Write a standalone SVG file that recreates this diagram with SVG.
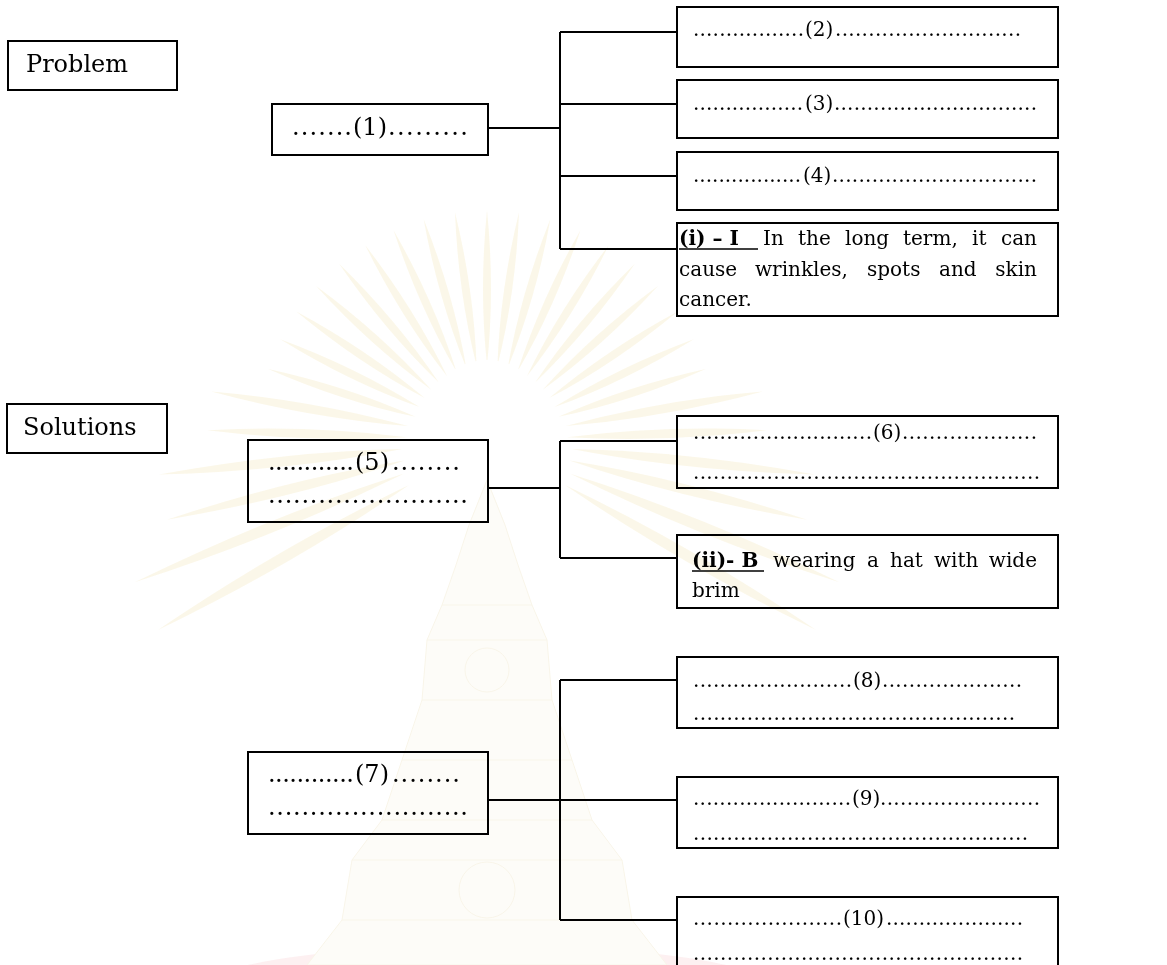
<svg xmlns="http://www.w3.org/2000/svg" xmlns:xlink="http://www.w3.org/1999/xlink" width="1167" height="965" viewBox="0 0 1167 965">
  <defs>
    <style>
      .box { fill: none; stroke: #000; stroke-width: 2; }
      .conn { fill: none; stroke: #000; stroke-width: 2; }
      .t { font-family: "DejaVu Serif", "Liberation Serif", serif; fill: #000; }
      .big { font-size: 24px; }
      .sm { font-size: 20px; }
      .b { font-weight: bold; }
      .ul { stroke: #000; stroke-width: 1.5; }
      .ray { fill: #f6ecc8; }
      .crown { fill: #fbf8ee; stroke: #efe6c8; stroke-width: 1; }
    </style>
    <!-- sunburst rays, drawn pointing up from the origin -->
    <path id="rayA" d="M0,-75 Q8,-150 0,-230 Q-8,-150 0,-75Z"/>
    <path id="rayB" d="M0,-80 Q9,-180 0,-280 Q-9,-180 0,-80Z"/>
    <path id="rayC" d="M0,-85 Q10,-200 0,-330 Q-10,-200 0,-85Z"/>
    <path id="rayD" d="M0,-90 Q11,-230 0,-380 Q-11,-230 0,-90Z"/>
  </defs>

  <rect width="1167" height="965" fill="#fff"/>

  <!-- faint emblem in the background -->
  <g id="watermark" opacity="0.4">
    <g class="ray" transform="translate(487,440)">
      <use xlink:href="#rayA" transform="rotate(0)"/>
      <use xlink:href="#rayA" transform="rotate(8)"/>
      <use xlink:href="#rayA" transform="rotate(-8)"/>
      <use xlink:href="#rayA" transform="rotate(16)"/>
      <use xlink:href="#rayA" transform="rotate(-16)"/>
      <use xlink:href="#rayA" transform="rotate(24)"/>
      <use xlink:href="#rayA" transform="rotate(-24)"/>
      <use xlink:href="#rayA" transform="rotate(32)"/>
      <use xlink:href="#rayA" transform="rotate(-32)"/>
      <use xlink:href="#rayA" transform="rotate(40)"/>
      <use xlink:href="#rayA" transform="rotate(-40)"/>
      <use xlink:href="#rayA" transform="rotate(48)"/>
      <use xlink:href="#rayA" transform="rotate(-48)"/>
      <use xlink:href="#rayA" transform="rotate(56)"/>
      <use xlink:href="#rayA" transform="rotate(-56)"/>
      <use xlink:href="#rayA" transform="rotate(64)"/>
      <use xlink:href="#rayA" transform="rotate(-64)"/>
      <use xlink:href="#rayA" transform="rotate(72)"/>
      <use xlink:href="#rayA" transform="rotate(-72)"/>
      <use xlink:href="#rayB" transform="rotate(80)"/>
      <use xlink:href="#rayB" transform="rotate(-80)"/>
      <use xlink:href="#rayB" transform="rotate(88)"/>
      <use xlink:href="#rayB" transform="rotate(-88)"/>
      <use xlink:href="#rayC" transform="rotate(96)"/>
      <use xlink:href="#rayC" transform="rotate(-96)"/>
      <use xlink:href="#rayC" transform="rotate(104)"/>
      <use xlink:href="#rayC" transform="rotate(-104)"/>
      <use xlink:href="#rayD" transform="rotate(112)"/>
      <use xlink:href="#rayD" transform="rotate(-112)"/>
      <use xlink:href="#rayD" transform="rotate(120)"/>
      <use xlink:href="#rayD" transform="rotate(-120)"/>
    </g>
    <circle cx="487" cy="420" r="60" fill="#fff"/>
    <ellipse cx="487" cy="995" rx="300" ry="50" fill="#fad9dc"/>
    <path class="crown" d="M487,480 L505,525 L518,565 L532,605 L547,640 L552,700 L572,760 L592,820 L622,860 L632,920 L667,965 L307,965 L342,920 L352,860 L382,820 L402,760 L422,700 L427,640 L442,605 L456,565 L469,525 Z"/>
    <path class="crown" fill="none" d="M442,605 H532 M427,640 H547 M422,700 H552 M402,760 H572 M382,820 H592 M352,860 H622 M342,920 H632"/>
    <circle class="crown" cx="487" cy="670" r="22"/>
    <circle class="crown" cx="487" cy="890" r="28"/>
  </g>

  <!-- connectors -->
  <g id="connectors">
    <path class="conn" d="M488,128 H560 M560,32 V249 M560,32 H677 M560,104 H677 M560,176 H677 M560,249 H677"/>
    <path class="conn" d="M488,488 H560 M560,441 V558 M560,441 H677 M560,558 H677"/>
    <path class="conn" d="M488,800 H560 M560,680 V920 M560,680 H677 M560,800 H677 M560,920 H677"/>
  </g>

  <g id="problem">
    <rect class="box" x="8" y="41" width="169" height="49"/>
    <text class="t big" x="26" y="72">Problem</text>
  </g>

  <g id="solutions">
    <rect class="box" x="7" y="404" width="160" height="49"/>
    <text class="t big" x="23" y="435">Solutions</text>
  </g>

  <g id="n1">
    <rect class="box" x="272" y="104" width="216" height="51"/>
    <text class="t big" x="292" y="135" textLength="60" lengthAdjust="spacing">.......</text>
    <text class="t big" x="353" y="135">(1)</text>
    <text class="t big" x="388" y="135" textLength="80" lengthAdjust="spacing">.........</text>
  </g>

  <g id="n2">
    <rect class="box" x="677" y="7" width="381" height="60"/>
    <text class="t sm" x="693" y="36" textLength="111" lengthAdjust="spacing">.................</text>
    <text class="t sm" x="805" y="36">(2)</text>
    <text class="t sm" x="835" y="36" textLength="186" lengthAdjust="spacing">............................</text>
  </g>

  <g id="n3">
    <rect class="box" x="677" y="80" width="381" height="58"/>
    <text class="t sm" x="693" y="110" textLength="110" lengthAdjust="spacing">.................</text>
    <text class="t sm" x="805" y="110">(3)</text>
    <text class="t sm" x="834" y="110" textLength="203" lengthAdjust="spacing">...............................</text>
  </g>

  <g id="n4">
    <rect class="box" x="677" y="152" width="381" height="58"/>
    <text class="t sm" x="693" y="182" textLength="108" lengthAdjust="spacing">.................</text>
    <text class="t sm" x="803" y="182">(4)</text>
    <text class="t sm" x="832" y="182" textLength="205" lengthAdjust="spacing">...............................</text>
  </g>

  <g id="ni">
    <rect class="box" x="677" y="223" width="381" height="93"/>
    <text class="t sm b" x="679" y="245">(i) – I</text>
    <line class="ul" x1="679" y1="249" x2="758" y2="249"/>
    <text class="t sm" y="245"><tspan x="763">In</tspan><tspan x="798">the</tspan><tspan x="845">long</tspan><tspan x="903">term,</tspan><tspan x="972">it</tspan></text>
    <text class="t sm" x="1037" y="245" text-anchor="end">can</text>
    <text class="t sm" y="276"><tspan x="679">cause</tspan><tspan x="755">wrinkles,</tspan><tspan x="867">spots</tspan><tspan x="939">and</tspan></text>
    <text class="t sm" x="1037" y="276" text-anchor="end">skin</text>
    <text class="t sm" x="679" y="306">cancer.</text>
  </g>

  <g id="n5">
    <rect class="box" x="248" y="440" width="240" height="82"/>
    <text class="t big" x="268" y="470" textLength="86" lengthAdjust="spacing">............</text>
    <text class="t big" x="355" y="470">(5)</text>
    <text class="t big" x="392" y="470" textLength="68" lengthAdjust="spacing">........</text>
    <text class="t big" x="268" y="503" textLength="200" lengthAdjust="spacing">........................</text>
  </g>

  <g id="n6">
    <rect class="box" x="677" y="416" width="381" height="72"/>
    <text class="t sm" x="693" y="439" textLength="179" lengthAdjust="spacing">...........................</text>
    <text class="t sm" x="873" y="439">(6)</text>
    <text class="t sm" x="902" y="439" textLength="135" lengthAdjust="spacing">....................</text>
    <text class="t sm" x="693" y="479" textLength="347" lengthAdjust="spacing">....................................................</text>
  </g>

  <g id="nii">
    <rect class="box" x="677" y="535" width="381" height="73"/>
    <text class="t sm b" x="692" y="567">(ii)- B</text>
    <line class="ul" x1="692" y1="571" x2="764" y2="571"/>
    <text class="t sm" y="567"><tspan x="773">wearing</tspan><tspan x="867">a</tspan><tspan x="890">hat</tspan><tspan x="934">with</tspan></text>
    <text class="t sm" x="1037" y="567" text-anchor="end">wide</text>
    <text class="t sm" x="692" y="597">brim</text>
  </g>

  <g id="n7">
    <rect class="box" x="248" y="752" width="240" height="82"/>
    <text class="t big" x="268" y="782" textLength="86" lengthAdjust="spacing">............</text>
    <text class="t big" x="355" y="782">(7)</text>
    <text class="t big" x="392" y="782" textLength="68" lengthAdjust="spacing">........</text>
    <text class="t big" x="268" y="815" textLength="200" lengthAdjust="spacing">........................</text>
  </g>

  <g id="n8">
    <rect class="box" x="677" y="657" width="381" height="71"/>
    <text class="t sm" x="693" y="687" textLength="159" lengthAdjust="spacing">........................</text>
    <text class="t sm" x="853" y="687">(8)</text>
    <text class="t sm" x="882" y="687" textLength="140" lengthAdjust="spacing">.....................</text>
    <text class="t sm" x="693" y="720" textLength="322" lengthAdjust="spacing">................................................</text>
  </g>

  <g id="n9">
    <rect class="box" x="677" y="777" width="381" height="71"/>
    <text class="t sm" x="693" y="805" textLength="158" lengthAdjust="spacing">........................</text>
    <text class="t sm" x="852" y="805">(9)</text>
    <text class="t sm" x="880" y="805" textLength="160" lengthAdjust="spacing">........................</text>
    <text class="t sm" x="693" y="840" textLength="335" lengthAdjust="spacing">..................................................</text>
  </g>

  <g id="n10">
    <rect class="box" x="677" y="897" width="381" height="90"/>
    <text class="t sm" x="693" y="925" textLength="149" lengthAdjust="spacing">......................</text>
    <text class="t sm" x="843" y="925">(10)</text>
    <text class="t sm" x="886" y="925" textLength="137" lengthAdjust="spacing">.....................</text>
    <text class="t sm" x="693" y="960" textLength="330" lengthAdjust="spacing">.................................................</text>
  </g>
</svg>
